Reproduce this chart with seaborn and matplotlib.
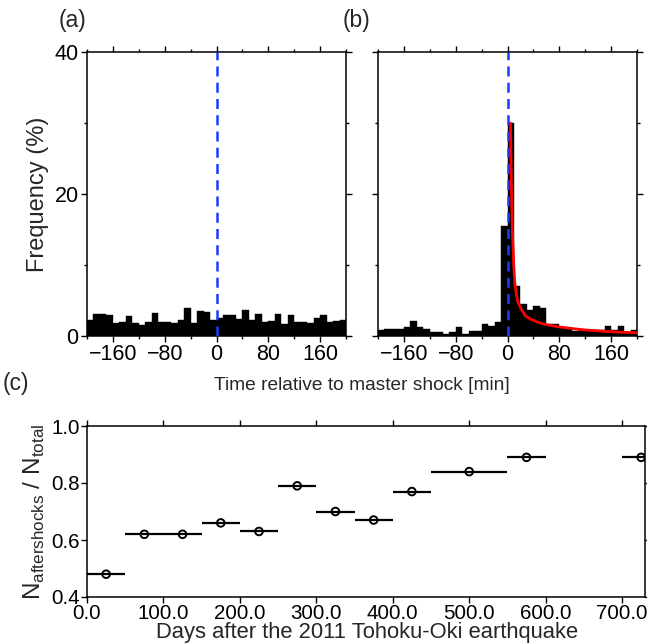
import numpy as np
import pandas as pd
import matplotlib
matplotlib.use("Agg")
import matplotlib.pyplot as plt
from matplotlib import font_manager
from matplotlib.ticker import MultipleLocator, FormatStrFormatter
import seaborn as sns

# ---------------- data ----------------
bin_edges = list(range(-200, 201, 10))          # minutes
bin_centers = [e + 5 for e in bin_edges[:-1]]

freq_a = [2.3, 3.1, 3.1, 3.0, 1.9, 2.0, 2.8, 1.9, 1.55, 2.0,
          3.2, 2.0, 2.0, 1.9, 2.2, 3.9, 1.9, 3.5, 3.4, 2.2,
          2.6, 3.0, 3.0, 2.4, 3.6, 2.3, 3.1, 2.0, 2.1, 3.1,
          1.7, 2.9, 2.0, 2.0, 1.8, 2.6, 3.0, 2.0, 2.1, 2.3]

freq_b = [0.85, 0.95, 0.95, 0.95, 1.2, 2.15, 1.2, 0.95, 0.5, 0.5,
          0.3, 0.5, 1.2, 0.25, 0.75, 0.75, 1.7, 1.45, 2.0, 15.5,
          30.0, 7.0, 4.5, 3.6, 4.2, 4.0, 1.7, 1.7, 1.2, 1.1,
          0.75, 0.85, 0.85, 0.85, 0.85, 1.45, 0.85, 1.45, 0.4, 0.85]

fit_t = [4.6, 5.5, 6.5, 7.7, 9.7, 11.3, 13.5, 16, 21, 28, 35, 48, 60, 78, 100, 120, 160, 200]
fit_v = [30, 24, 19, 14.5, 9.8, 7.4, 6.0, 4.8, 3.8, 2.8, 2.4, 1.9, 1.6, 1.3, 1.05, 0.85, 0.6, 0.45]

day_center = [25, 75, 125, 175, 225, 275, 325, 375, 425, 500, 575, 725]
day_halfwidth = [25, 25, 25, 25, 25, 25, 25, 25, 25, 50, 25, 25]
ratio = [0.48, 0.62, 0.62, 0.66, 0.63, 0.79, 0.70, 0.67, 0.77, 0.84, 0.89, 0.89]

# ---------------- style ----------------
sns.set_theme(style="ticks")
plt.rcParams['font.family'] = ['Liberation Sans', 'DejaVu Sans']
plt.rcParams['axes.linewidth'] = 1.1
for k in ('xtick', 'ytick'):
    plt.rcParams[f'{k}.major.width'] = 1.0
    plt.rcParams[f'{k}.minor.width'] = 1.0
    plt.rcParams[f'{k}.major.size'] = 4
    plt.rcParams[f'{k}.minor.size'] = 2.5
    plt.rcParams[f'{k}.direction'] = 'out'
    plt.rcParams[f'{k}.color'] = 'black'
plt.rcParams['axes.edgecolor'] = 'black'

installed = {f.name for f in font_manager.fontManager.ttflist}
if 'Liberation Sans Narrow' in installed:
    time_family, time_size = ['Liberation Sans Narrow'], 16.5
else:
    time_family, time_size = ['Liberation Sans'], 13.8

W, H = 647, 644
fig = plt.figure(figsize=(W / 100, H / 100), dpi=100)

def px(l, t, r, b):
    return [l / W, 1 - b / H, (r - l) / W, (b - t) / H]

ax_a = fig.add_axes(px(87, 52, 346, 336))
ax_b = fig.add_axes(px(378, 52, 637, 336))
ax_c = fig.add_axes(px(87, 426, 645, 597))

df_a = pd.DataFrame({"t": bin_centers, "f": freq_a})
df_b = pd.DataFrame({"t": bin_centers, "f": freq_b})

for ax, df in ((ax_a, df_a), (ax_b, df_b)):
    sns.histplot(data=df, x="t", weights="f", bins=bin_edges, ax=ax,
                 color="black", edgecolor="black", linewidth=0.3, alpha=1.0)
    ax.axvline(0, color="#1a3cff", lw=1.8, ls=(0, (4, 2.5)), zorder=5)
    ax.set_xlim(-200, 200)
    ax.set_ylim(0, 40)
    ax.xaxis.set_major_locator(MultipleLocator(80))
    ax.xaxis.set_minor_locator(MultipleLocator(40))
    ax.yaxis.set_major_locator(MultipleLocator(20))
    ax.yaxis.set_minor_locator(MultipleLocator(10))
    ax.tick_params(which="both", top=True, right=True, labelsize=15.5, pad=2)
    ax.set_xlabel("")
    ax.set_ylabel("")
    for s in ax.spines.values():
        s.set_visible(True)

sns.lineplot(x=fit_t, y=fit_v, ax=ax_b, color="red", lw=2.0, zorder=6)

ax_b.tick_params(labelleft=False)
ax_a.set_ylabel("Frequency (%)", fontsize=17, labelpad=4)
fig.text(362 / W, 1 - 390 / H, "Time relative to master shock [min]",
         ha="center", va="baseline", fontsize=time_size, family=time_family)
fig.text(72 / W, 1 - 27 / H, "(a)", ha="center", va="baseline", fontsize=16.5)
fig.text(356 / W, 1 - 27 / H, "(b)", ha="center", va="baseline", fontsize=16.5)
fig.text(16 / W, 1 - 390 / H, "(c)", ha="center", va="baseline", fontsize=16.5)

# ---------------- panel (c) ----------------
ax_c.errorbar(day_center, ratio, xerr=day_halfwidth, fmt="none",
              ecolor="black", elinewidth=1.6, capsize=0, zorder=2)
sns.scatterplot(x=day_center, y=ratio, ax=ax_c, marker="o", s=30,
                facecolor="none", edgecolor="black", linewidth=1.4, zorder=3)
ax_c.set_xlim(0, 730)
ax_c.set_ylim(0.4, 1.0)
ax_c.xaxis.set_major_locator(MultipleLocator(100))
ax_c.xaxis.set_major_formatter(FormatStrFormatter("%.1f"))
ax_c.yaxis.set_major_locator(MultipleLocator(0.2))
ax_c.yaxis.set_major_formatter(FormatStrFormatter("%.1f"))
ax_c.tick_params(which="both", top=True, right=True, labelsize=14.8, pad=1)
for s in ax_c.spines.values():
    s.set_visible(True)
ax_c.set_xlabel("")
fig.text(367 / W, 1 - 638 / H, "Days after the 2011 Tohoku-Oki earthquake",
         ha="center", va="baseline", fontsize=15.8)
ax_c.set_ylabel(r"N$_{\mathregular{aftershocks}}$ / N$_{\mathregular{total}}$",
                fontsize=17.5, labelpad=3)

fig.savefig("out.png", dpi=100)
